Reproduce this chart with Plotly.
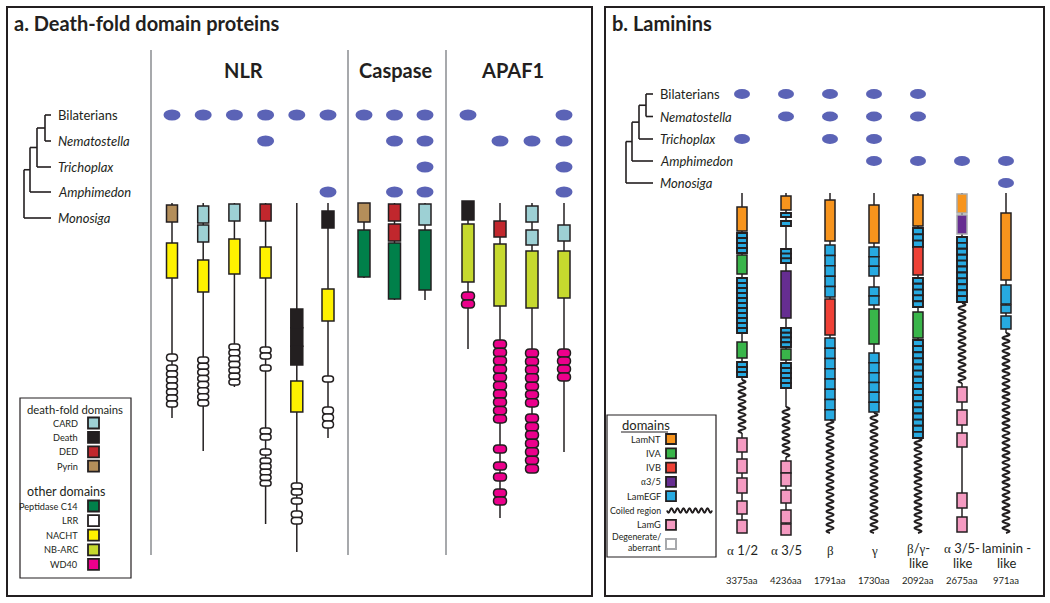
import plotly.graph_objects as go

# ---- data ----
species = ["Bilaterians", "Nematostella", "Trichoplax", "Amphimedon", "Monosiga"]

families_a = ["NLR", "Caspase", "APAF1"]
# which species have each protein (6 NLR, 3 Caspase, 4 APAF1)
presence_a = [
    [1, 1, 1, 1, 1, 1, 1, 1, 1, 1, 0, 0, 1],
    [0, 0, 0, 1, 0, 0, 0, 1, 1, 0, 1, 1, 1],
    [0, 0, 0, 0, 0, 0, 0, 0, 1, 0, 0, 0, 1],
    [0, 0, 0, 0, 0, 1, 0, 1, 1, 0, 0, 0, 1],
    [0, 0, 0, 0, 0, 0, 0, 0, 0, 0, 0, 0, 0],
]
presence_b = [
    [1, 1, 1, 1, 1, 0, 0],
    [0, 1, 1, 1, 1, 0, 0],
    [1, 0, 1, 1, 0, 0, 0],
    [0, 0, 0, 1, 1, 1, 1],
    [0, 0, 0, 0, 0, 0, 1],
]

# protein architectures: (length, [(domain, start, end, repeats)]), positions along the protein
nlr = [
    (215, [("Pyrin", 2, 19, 1), ("NACHT", 40, 75, 1), ("LRR", 151, 158, 1), ("LRR", 162, 204, 7)]),
    (248, [("CARD", 3, 20, 1), ("CARD", 22, 39, 1), ("NACHT", 57, 89, 1), ("LRR", 154, 203, 8)]),
    (184, [("CARD", 1, 18, 1), ("NACHT", 36, 71, 1), ("LRR", 141, 182, 7)]),
    (321, [("DED", 1, 18, 1), ("NACHT", 44, 75, 1), ("LRR", 144, 156, 2), ("LRR", 162, 168, 1),
           ("LRR", 225, 237, 2), ("LRR", 246, 252, 1), ("LRR", 255, 283, 5)]),
    (349, [("Death", 106, 162, 3), ("NACHT", 178, 209, 1), ("LRR", 280, 292, 2), ("LRR", 295, 301, 1),
           ("LRR", 308, 321, 2)]),
    (235, [("Death", 8, 25, 1), ("NACHT", 86, 118, 1), ("LRR", 173, 179, 1), ("LRR", 204, 225, 3)]),
]
caspase = [
    (75, [("Pyrin", 0, 19, 1), ("Peptidase C14", 27, 74, 1)]),
    (97, [("DED", 1, 18, 1), ("DED", 21, 38, 1), ("Peptidase C14", 40, 96, 1)]),
    (97, [("CARD", 1, 22, 1), ("Peptidase C14", 27, 87, 1)]),
]
apaf1 = [
    (146, [("Death", -2, 17, 1), ("NB-ARC", 21, 79, 1), ("WD40", 89, 105, 2)]),
    (315, [("DED", 18, 34, 1), ("NB-ARC", 41, 103, 1), ("WD40", 137, 220, 10), ("WD40", 242, 250, 1),
           ("WD40", 259, 267, 1), ("WD40", 270, 278, 1), ("WD40", 286, 302, 2)]),
    (270, [("CARD", 3, 19, 1), ("CARD", 27, 42, 1), ("NB-ARC", 48, 105, 1), ("WD40", 146, 204, 7),
           ("WD40", 211, 270, 7)]),
    (249, [("CARD", 22, 38, 1), ("NB-ARC", 48, 95, 1), ("WD40", 146, 178, 4)]),
]

laminin_names = ["α 1/2", "α 3/5", "β", "γ", "β/γ-<br>like", "α 3/5-<br>like", "laminin -<br>like"]
laminin_lengths = ["3375aa", "4236aa", "1791aa", "1730aa", "2092aa", "2675aa", "971aa"]
laminins = [
    (340, [("LamNT", 14, 38, 1), ("LamEGF", 40, 60, 4), ("IVA", 62, 81, 1), ("LamEGF", 85, 140, 11),
           ("IVA", 149, 165, 1), ("LamEGF", 169, 184, 3), ("coil", 187, 240, 1),
           ("LamG", 245, 259, 1), ("LamG", 266, 280, 1), ("LamG", 285, 300, 1), ("LamG", 308, 321, 1),
           ("LamG", 327, 340, 1)]),
    (342, [("LamNT", 3, 17, 1), ("LamEGF", 20, 24, 1), ("LamEGF", 28, 33, 1), ("LamEGF", 56, 70, 3),
           ("a3/5", 78, 125, 1), ("LamEGF", 135, 154, 4), ("IVA", 156, 167, 1), ("LamEGF", 170, 195, 5),
           ("coil", 214, 264, 1), ("LamG", 268, 280, 1), ("LamG", 280, 293, 1), ("LamG", 297, 310, 1),
           ("LamG", 317, 330, 1), ("LamG", 331, 342, 1)]),
    (340, [("LamNT", 7, 48, 1), ("LamEGF", 52, 104, 5), ("IVB", 106, 142, 1), ("LamEGF", 145, 227, 8),
           ("coil", 227, 340, 1)]),
    (340, [("LamNT", 12, 50, 1), ("LamEGF", 54, 83, 3), ("LamEGF", 94, 112, 2), ("IVA", 116, 151, 1),
           ("LamEGF", 160, 219, 6), ("coil", 220, 340, 1)]),
    (340, [("LamNT", 2, 33, 1), ("LamEGF", 35, 54, 3), ("IVB", 54, 82, 1), ("LamEGF", 85, 114, 5),
           ("IVA", 119, 145, 1), ("LamEGF", 147, 245, 16), ("coil", 245, 340, 1)]),
    (339, [("LamNT*", 1, 20, 1), ("a3/5*", 22, 41, 1), ("LamEGF", 44, 109, 11), ("coil", 110, 190, 1),
           ("LamG", 194, 209, 1), ("LamG", 217, 232, 1), ("LamG", 240, 254, 1), ("LamG", 300, 315, 1),
           ("LamG", 324, 339, 1)]),
    (340, [("LamNT", 20, 87, 1), ("LamEGF", 92, 111, 1), ("LamEGF", 112, 120, 1), ("LamEGF", 123, 136, 1),
           ("coil", 140, 340, 1)]),
]

death_fold_legend = ["CARD", "Death", "DED", "Pyrin"]
other_legend = ["Peptidase C14", "LRR", "NACHT", "NB-ARC", "WD40"]
laminin_legend = ["LamNT", "IVA", "IVB", "a3/5", "LamEGF", "coil", "LamG", "degenerate"]
laminin_legend_text = ["LamNT", "IVA", "IVB", "α3/5", "LamEGF", "Coiled region", "LamG",
                       "Degenerate/<br>aberrant"]

colors = {
    "CARD": "#9dd0d4", "Death": "#231f20", "DED": "#c1272d", "Pyrin": "#b48e5a",
    "Peptidase C14": "#00804a", "LRR": "#ffffff", "NACHT": "#fff200", "NB-ARC": "#c6d92e",
    "WD40": "#ec008c",
    "LamNT": "#f7941d", "IVA": "#39b54a", "IVB": "#ef4136", "a3/5": "#662d91",
    "LamEGF": "#27aae1", "LamG": "#f49ac1", "degenerate": "#ffffff",
}
INK = "#231f20"
GREY = "#a7a9ac"
DOT = "#5b63b6"
FONT = "Lato, 'Open Sans', sans-serif"

shapes = []
annotations = []


def text(x, y, s, size=10, anchor="left", bold=False, italic=False, color=INK):
    if bold:
        s = "<b>" + s + "</b>"
    if italic:
        s = "<i>" + s + "</i>"
    annotations.append(dict(x=x, y=y, xref="x", yref="y", text=s, showarrow=False,
                            xanchor=anchor, yanchor="middle",
                            font=dict(family=FONT, size=size, color=color)))


def greek(s):
    for g in "αβγ":
        s = s.replace(g, "<span style='font-family:Liberation Serif'>" + g + "</span>")
    return s


def line(x0, y0, x1, y1, color=INK, width=1.5):
    shapes.append(dict(type="line", xref="x", yref="y", x0=x0, y0=y0, x1=x1, y1=y1,
                       line=dict(color=color, width=width)))


def rect(x0, y0, x1, y1, fill, color=INK, width=1.5):
    shapes.append(dict(type="rect", xref="x", yref="y", x0=x0, y0=y0, x1=x1, y1=y1,
                       fillcolor=fill, line=dict(color=color, width=width)))


def capsule(x0, y0, x1, y1, fill):
    r = (y1 - y0) / 2
    ym = (y0 + y1) / 2
    p = (f"M{x0 + r},{y0} L{x1 - r},{y0} Q{x1},{y0} {x1},{ym} Q{x1},{y1} {x1 - r},{y1} "
         f"L{x0 + r},{y1} Q{x0},{y1} {x0},{ym} Q{x0},{y0} {x0 + r},{y0} Z")
    shapes.append(dict(type="path", xref="x", yref="y", path=p, fillcolor=fill,
                       line=dict(color=INK, width=1.5)))


def coil(x, y0, y1, horizontal=False, amp=3.5, period=6.6):
    n = max(2, int(round((y1 - y0) / (period / 2))))
    step = (y1 - y0) / n
    if horizontal:
        p = f"M{y0},{x}"
    else:
        p = f"M{x},{y0}"
    for i in range(n):
        a = y0 + i * step
        b = a + step
        off = 2 * amp if i % 2 == 0 else -2 * amp
        if horizontal:
            p += f" Q{(a + b) / 2},{x + off} {b},{x}"
        else:
            p += f" Q{x + off},{(a + b) / 2} {x},{b}"
    shapes.append(dict(type="path", xref="x", yref="y", path=p, line=dict(color=INK, width=2)))


def ellipse(cx, cy, w=17, h=11):
    shapes.append(dict(type="circle", xref="x", yref="y", x0=cx - w / 2, x1=cx + w / 2,
                       y0=cy - h / 2, y1=cy + h / 2, fillcolor=DOT, line=dict(color=DOT, width=0)))


def protein(x, top, spec, box_w, lw=1.5):
    length, doms = spec
    coils = sorted((s, e) for d, s, e, n in doms if d == "coil")
    pos = 0
    for s, e in coils:
        line(x, top + pos, x, top + s, width=lw)
        pos = e
    if pos < length:
        line(x, top + pos, x, top + length, width=lw)
    for d, s, e, n in doms:
        if d == "coil":
            coil(x, top + s, top + e)
            continue
        deg = d.endswith("*")
        name = d.rstrip("*")
        h = (e - s) / n
        for k in range(n):
            y0 = top + s + k * h
            y1 = y0 + h
            if name == "LRR":
                capsule(x - 5.5, y0, x + 5.5, y1, colors[name])
            elif name == "WD40":
                capsule(x - 6.5, y0, x + 6.5, y1, colors[name])
            else:
                bw = 1.9 if (name == "LamEGF" and h < 7) else 1.5
                rect(x - box_w / 2, y0, x + box_w / 2, y1, colors[name],
                     color=GREY if deg else INK, width=bw)


def tree(tip_x, node_xs, ys, label_x):
    mid = ys[0]
    prev_x = None
    for i, nx in enumerate(node_xs):
        if i == 0:
            line(nx, ys[0], tip_x, ys[0], width=1.6)
            line(nx, ys[0], nx, ys[1], width=1.6)
            line(nx, ys[1], tip_x, ys[1], width=1.6)
            mid = (ys[0] + ys[1]) / 2
        else:
            line(nx, mid, prev_x, mid, width=1.6)
            line(nx, mid, nx, ys[i + 1], width=1.6)
            line(nx, ys[i + 1], tip_x, ys[i + 1], width=1.6)
            mid = (mid + ys[i + 1]) / 2
        prev_x = nx
    for i, sp in enumerate(species):
        text(label_x, ys[i], sp, size=13, italic=(i > 0))


# ---- panel frames ----
rect(7, 7, 592, 596, "rgba(0,0,0,0)", width=2)
rect(605, 7, 1044, 596, "rgba(0,0,0,0)", width=2)
text(12, 23, "a. Death-fold domain proteins", size=20, bold=True)
text(610, 23, "b. Laminins", size=20, bold=True)

# ---- panel a ----
for gx in (151, 348, 446):
    line(gx, 50, gx, 555, color=GREY, width=2)
text(243, 70, families_a[0], size=20, bold=True, anchor="center")
text(395, 70, families_a[1], size=20, bold=True, anchor="center")
text(512, 70, families_a[2], size=20, bold=True, anchor="center")

rows_a = [115, 141, 167, 192, 218]
tree(51, [45, 37, 30, 24], rows_a, 56)

cols_a = [172 + 31.2 * i for i in range(len(nlr))]
cols_a += [364 + 30.5 * i for i in range(len(caspase))]
cols_a += [468 + 32 * i for i in range(len(apaf1))]
for r, row in enumerate(presence_a):
    for c, v in enumerate(row):
        if v:
            ellipse(cols_a[c], rows_a[r])

for i, spec in enumerate(nlr):
    protein(cols_a[i], 203, spec, 11 if spec[1][0][0] != "Death" else 12)
for i, spec in enumerate(caspase):
    protein(cols_a[len(nlr) + i], 203, spec, 12)
for i, spec in enumerate(apaf1):
    protein(cols_a[len(nlr) + len(caspase) + i], 203, spec, 12)

# legend a
rect(20, 398, 131, 578, "rgba(0,0,0,0)", width=1.2)
text(25, 409, "death-fold domains", size=11.3)
for i, d in enumerate(death_fold_legend):
    y = 423 + 14.4 * i
    text(80, y, d, size=9.2, anchor="right")
    rect(88, y - 5.5, 99, y + 5.5, colors[d], width=1.8)
text(25, 491, "other domains", size=12.5)
for i, d in enumerate(other_legend):
    y = 506 + 14.6 * i
    text(80, y, d, size=9.2, anchor="right")
    rect(88, y - 5.5, 99, y + 5.5, colors[d], width=1.8)

# ---- panel b ----
rows_b = [94, 116.5, 139, 161, 183]
tree(653, [646, 639, 632, 626], rows_b, 658)

cols_b = [742 + 44 * i for i in range(len(laminins))]
for r, row in enumerate(presence_b):
    for c, v in enumerate(row):
        if v:
            ellipse(cols_b[c], rows_b[r], w=16, h=10)

for i, spec in enumerate(laminins):
    protein(cols_b[i], 193, spec, 10)
    if "<br>" in laminin_names[i]:
        first, second = laminin_names[i].split("<br>")
        text(cols_b[i], 548, greek(first), size=13, anchor="center")
        text(cols_b[i], 563, second, size=13, anchor="center")
    else:
        text(cols_b[i], 550, greek(laminin_names[i]), size=13, anchor="center")
    text(cols_b[i], 580, laminin_lengths[i], size=9.5, anchor="center")

# legend b
rect(607, 415, 716, 557, "rgba(0,0,0,0)", width=1.2)
text(620, 425, "domains", size=13)
line(621, 432, 668, 432, width=1)
for i, d in enumerate(laminin_legend):
    y = 439 + 14.3 * i
    if d == "degenerate":
        first, second = laminin_legend_text[i].split("<br>")
        text(663, y - 3, first, size=8.8, anchor="right")
        text(663, y + 8, second, size=8.8, anchor="right")
        rect(666, y, 676, y + 10, "#ffffff", color=GREY, width=2)
    elif d == "coil":
        text(663, y, laminin_legend_text[i], size=8.8, anchor="right")
        coil(y, 667, 712, horizontal=True, amp=2.2, period=6)
    else:
        text(663, y, greek(laminin_legend_text[i]), size=9.3, anchor="right")
        rect(666, y - 5, 676, y + 5, colors[d], width=1.8)

fig = go.Figure(go.Scatter(x=[], y=[]))
fig.update_layout(
    width=1050, height=603,
    margin=dict(l=0, r=0, t=0, b=0),
    paper_bgcolor="white", plot_bgcolor="white",
    xaxis=dict(range=[0, 1050], visible=False, fixedrange=True),
    yaxis=dict(range=[603, 0], visible=False, fixedrange=True),
    shapes=shapes, annotations=annotations, showlegend=False,
)
fig.write_html("out.html", config={"displayModeBar": False},
               post_script="document.body.style.margin='0px';")
